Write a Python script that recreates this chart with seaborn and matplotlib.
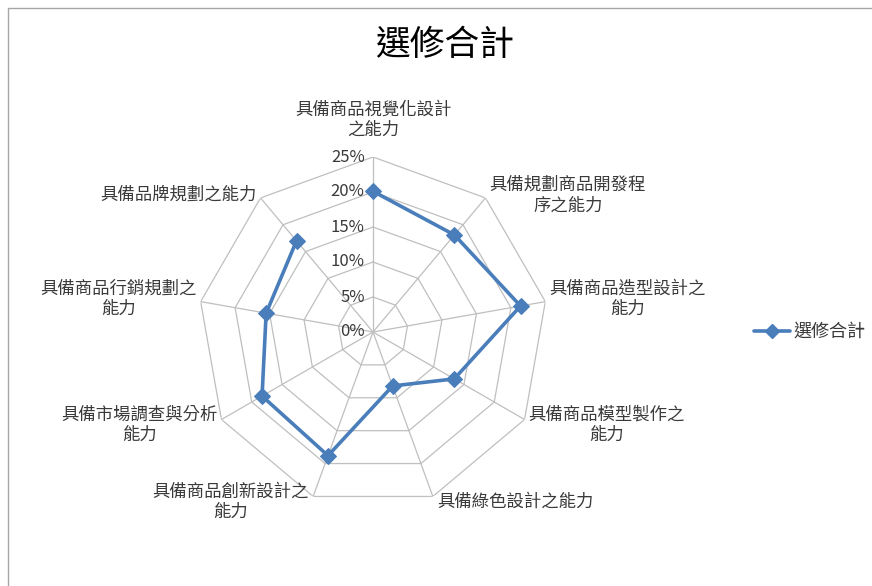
import numpy as np
import pandas as pd
import matplotlib
matplotlib.use("Agg")
import matplotlib.pyplot as plt
import seaborn as sns
from matplotlib.patches import Rectangle
from matplotlib.lines import Line2D

categories = [
    "具備商品視覺化設計\n之能力",
    "具備規劃商品開發程\n序之能力",
    "具備商品造型設計之\n能力",
    "具備商品模型製作之\n能力",
    "具備綠色設計之能力",
    "具備商品創新設計之\n能力",
    "具備市場調查與分析\n能力",
    "具備商品行銷規劃之\n能力",
    "具備品牌規劃之能力",
]
values = [20.1, 18.1, 21.4, 13.4, 8.2, 18.8, 18.3, 15.5, 17.0]
ticks = [0, 5, 10, 15, 20, 25]
tick_labels = ["0%", "5%", "10%", "15%", "20%", "25%"]
series_name = "選修合計"
title = "選修合計"

sns.set_theme(style="white")
plt.rcParams["font.family"] = ["Noto Sans CJK TC", "DejaVu Sans"]

W, H = 872, 586
fig = plt.figure(figsize=(W / 100, H / 100), dpi=100)
fig.patch.set_facecolor("white")

cx, cy, R = 373, 332, 175
ax = fig.add_axes([(cx - R) / W, 1 - (cy + R) / H, 2 * R / W, 2 * R / H], projection="polar")
ax.set_theta_zero_location("N")
ax.set_theta_direction(-1)
ax.set_ylim(0, ticks[-1])
ax.grid(False)
ax.spines["polar"].set_visible(False)
ax.set_xticks([])
ax.set_yticks([])
ax.patch.set_alpha(0)

n = len(categories)
angles = np.linspace(0, 2 * np.pi, n, endpoint=False)
grid_color = "#BFBFBF"
ang_closed = np.append(angles, angles[0])
for t in ticks[1:]:
    ax.plot(ang_closed, [t] * (n + 1), color=grid_color, lw=0.9, zorder=1)
for a in angles:
    ax.plot([a, a], [0, ticks[-1]], color=grid_color, lw=0.9, zorder=1)

df = pd.DataFrame({"theta": np.append(angles, angles[0]),
                   "r": values + [values[0]]})
sns.lineplot(data=df, x="theta", y="r", ax=ax, sort=False, color="#4A7EBB",
             lw=2.6, marker="D", markersize=8, markeredgecolor="#4A7EBB",
             zorder=3, legend=False)
ax.set_xlabel("")
ax.set_ylabel("")
ax.set_ylim(0, ticks[-1])

text_color = "#3A3A3A"
for t, lab in zip(ticks, tick_labels):
    ax.annotate(lab, xy=(0, t), xytext=(-6, 0), textcoords="offset points",
                ha="right", va="center", fontsize=12, color=text_color)

for a, lab in zip(angles, categories):
    deg = np.degrees(a)
    if deg < 1:
        ax.annotate(lab, xy=(a, ticks[-1]), xytext=(0, 13), textcoords="offset points",
                    ha="center", va="bottom", fontsize=12.5, color=text_color,
                    multialignment="center", linespacing=1.15)
    else:
        right = deg < 180
        ax.annotate(lab, xy=(a, ticks[-1]),
                    xytext=((3 if right else -3), (-6 if 90 < deg < 270 else 0) + 2),
                    textcoords="offset points",
                    ha="left" if right else "right", va="center", fontsize=12.5,
                    color=text_color, multialignment="center", linespacing=1.15)

fig.text(445 / W, 1 - 45 / H, title, ha="center", va="center", fontsize=25, color="black")

handle = Line2D([], [], color="#4A7EBB", lw=2.6, marker="D", markersize=7)
fig.legend([handle], [series_name], loc="center left", bbox_to_anchor=(738 / W, 1 - 332 / H),
           frameon=False, fontsize=13, handlelength=2.0, handletextpad=0.2,
           labelcolor=text_color)

fig.patches.append(Rectangle((8 / W, -0.05), 2, 1 - 8 / H + 0.05, transform=fig.transFigure,
                             fill=False, edgecolor="#A6A6A6", lw=1))

fig.savefig("out.png", dpi=100, facecolor="white")
